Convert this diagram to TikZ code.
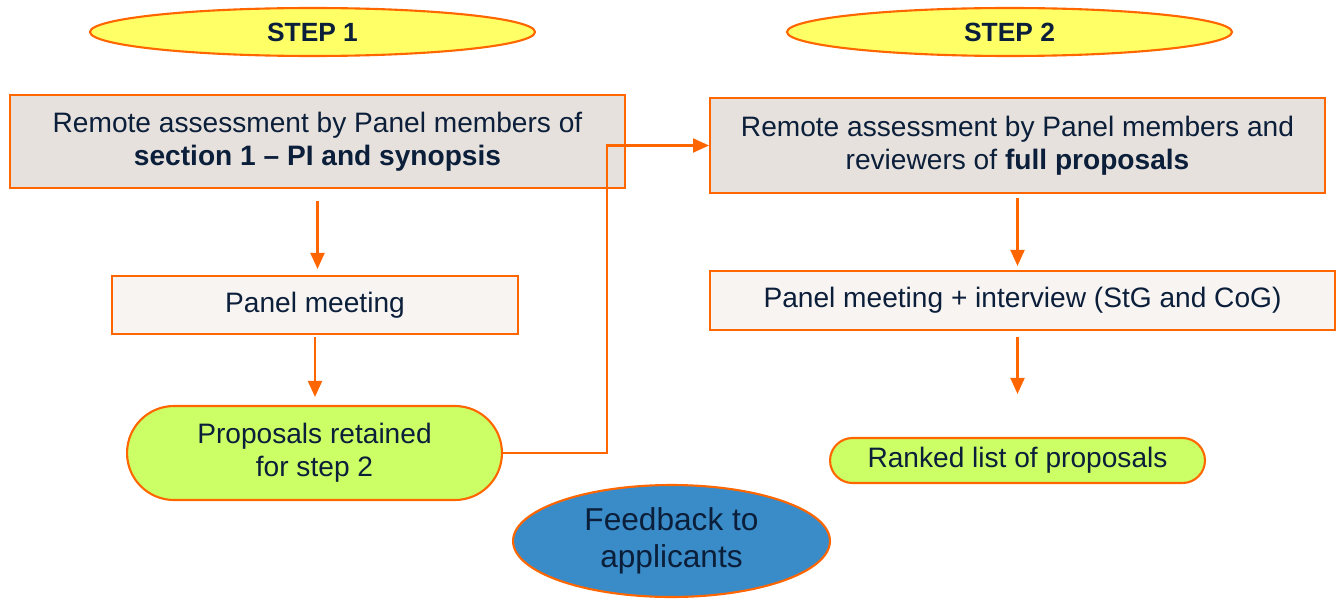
\documentclass[tikz,border=0pt]{standalone}
\usepackage{fontspec}
\setmainfont{Liberation Sans}
\usetikzlibrary{shapes.geometric,arrows.meta}
\definecolor{ercorange}{HTML}{FF6600}
\definecolor{ercnavy}{HTML}{0B1F3A}
\definecolor{stepyellow}{HTML}{FFFF66}
\definecolor{boxgrey}{HTML}{E7E1DD}
\definecolor{boxlight}{HTML}{F8F4F2}
\definecolor{resultgreen}{HTML}{CCFF66}
\definecolor{feedbackblue}{HTML}{3A8CC8}
\newcommand{\flowFont}[0]{\fontsize{16}{19}\selectfont}

\begin{document}
\begin{tikzpicture}[x=0.02cm, y=-0.02cm]
  \tikzset{
    every node/.style={text=ercnavy, align=center, font=\flowFont},
    steplabel/.style={ellipse, draw=ercorange, line width=1.2pt, fill=stepyellow,
      inner sep=0pt, minimum width=8.9cm, minimum height=0.96cm,
      font=\fontsize{15}{18}\selectfont\bfseries},
    assessbox/.style={rectangle, draw=ercorange, line width=1.2pt, fill=boxgrey,
      inner sep=0pt, minimum width=12.3cm},
    meetingbox/.style={rectangle, draw=ercorange, line width=1.2pt, fill=boxlight,
      inner sep=0pt},
    resultpill/.style={rectangle, draw=ercorange, line width=1.2pt, fill=resultgreen,
      inner sep=0pt},
    flowarrow/.style={draw=ercorange, line width=1.2pt,
      -{Triangle[length=0.32cm, width=0.28cm]}}
  }
  \useasboundingbox (0,0) rectangle (1337,598);

  % step 1
  \node[steplabel] (step1) at (312.5,32) {STEP 1};
  \node[assessbox, minimum height=1.86cm] (assess1) at (317.5,141.5)
    {Remote assessment by Panel members of\\\textbf{section 1 -- PI and synopsis}};
  \node[meetingbox, minimum width=8.12cm, minimum height=1.16cm] (panel1) at (315,305)
    {Panel meeting};
  \node[resultpill, minimum width=7.5cm, minimum height=1.88cm, rounded corners=0.94cm]
    (retained) at (314.5,453) {Proposals retained\\for step 2};

  % step 2
  \node[steplabel] (step2) at (1009.5,32) {STEP 2};
  \node[assessbox, minimum height=1.9cm] (assess2) at (1017.5,145.5)
    {Remote assessment by Panel members and\\reviewers of \textbf{full proposals}};
  \node[meetingbox, minimum width=12.5cm, minimum height=1.18cm] (panel2) at (1022.5,300.5)
    {Panel meeting + interview (StG and CoG)};
  \node[resultpill, minimum width=7.5cm, minimum height=0.9cm, rounded corners=0.45cm]
    (ranked) at (1017.5,460.5) {Ranked list of proposals};

  \node[ellipse, draw=ercorange, line width=1.2pt, fill=feedbackblue, inner sep=0pt,
    minimum width=6.34cm, minimum height=2.24cm, font=\fontsize{18}{21}\selectfont]
    (feedback) at (671.5,541) {Feedback to\\applicants};

  % connectors
  \draw[flowarrow, shorten <=0.24cm, shorten >=0.12cm] (assess1.south) -- (assess1.south |- panel1.north);
  \draw[flowarrow, shorten <=0.04cm, shorten >=0.16cm] (panel1.south) -- (panel1.south |- retained.north);
  \coordinate (bend) at (607,453);
  \draw[flowarrow] (retained.east) -- (bend) |- (assess2.west);
  \draw[flowarrow, shorten <=0.08cm, shorten >=0.08cm] (assess2.south) -- (assess2.south |- panel2.north);
  \draw[flowarrow, shorten <=0.12cm, shorten >=0.86cm] (assess2.south |- panel2.south) -- (assess2.south |- ranked.north);
\end{tikzpicture}
\end{document}
